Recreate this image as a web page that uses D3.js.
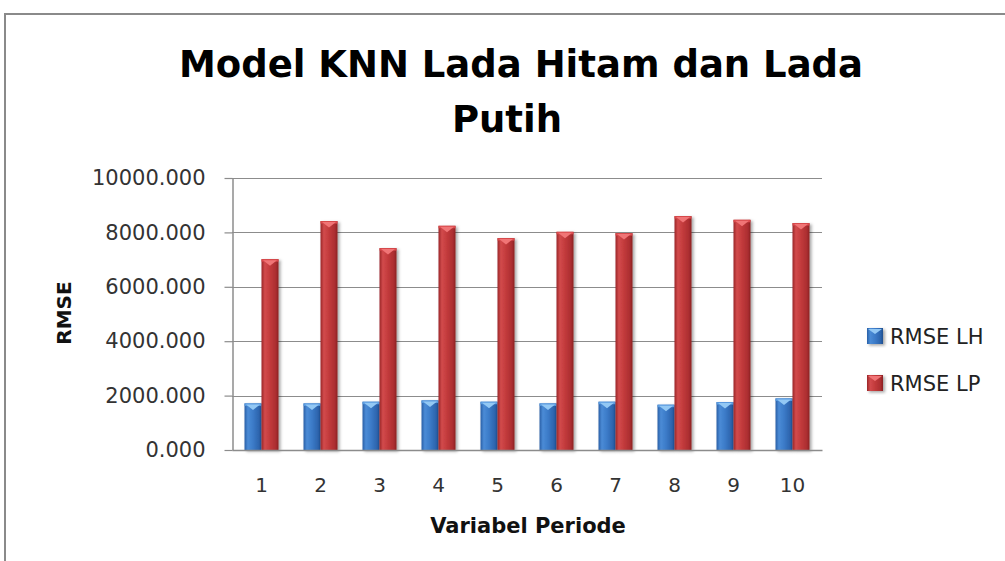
<!DOCTYPE html>
<html>
<head>
<meta charset="utf-8">
<script src="https://cdn.jsdelivr.net/npm/d3@7"></script>
<style>
  html, body { margin: 0; padding: 0; background: #fff; }
  svg { display: block; }
</style>
</head>
<body>
<svg id="chart" width="1005" height="561"></svg>
<script>
// ---- data ----
const categories = ["1","2","3","4","5","6","7","8","9","10"];
const seriesNames = ["RMSE LH","RMSE LP"];
const rmseLH = [1713, 1713, 1775, 1823, 1775, 1713, 1775, 1665, 1761, 1897];
const rmseLP = [7017, 8416, 7422, 8243, 7790, 8022, 7974, 8600, 8464, 8343];
const yTicks = [0, 2000, 4000, 6000, 8000, 10000];
const titleLines = ["Model KNN Lada Hitam dan Lada", "Putih"];
const xTitle = "Variabel Periode";
const yTitle = "RMSE";

const svg = d3.select("#chart");

// chart border
svg.append("path")
  .attr("d", "M5,1000 L5,14 L1010,14")
  .attr("fill", "none").attr("stroke", "#8a8a8a").attr("stroke-width", 2);

const plot = { left: 232, right: 822, top: 178, bottom: 450 };

const x = d3.scaleBand().domain(categories)
  .range([plot.left, plot.right]).paddingInner(25/59).paddingOuter(12.5/59);
const xs = d3.scaleBand().domain(seriesNames).range([0, x.bandwidth()]);
const y = d3.scaleLinear().domain([0, 10000]).range([plot.bottom, plot.top]);

// defs: gradients & shadow
const defs = svg.append("defs");
const grads = {
  "RMSE LH": ["#2a5fa6", "#4a8bd6", "#3c7bc8", "#2c64ad", "#1f4e8e"],
  "RMSE LP": ["#9a2628", "#d24a4c", "#c23a3c", "#ab2e30", "#8a2022"]
};
const tops = { "RMSE LH": "#93c8f4", "RMSE LP": "#f07476" };
const topBand = { "RMSE LH": "#5a9be0", "RMSE LP": "#d9494b" };
seriesNames.forEach((s, i) => {
  const g = defs.append("linearGradient").attr("id", "g" + i)
    .attr("x1", "0").attr("x2", "1").attr("y1", "0").attr("y2", "0");
  const cols = grads[s];
  [0, 0.2, 0.5, 0.85, 1].forEach((o, k) =>
    g.append("stop").attr("offset", o).attr("stop-color", cols[k]));
});
const f = defs.append("filter").attr("id", "shadow")
  .attr("x", "-30%").attr("y", "-10%").attr("width", "160%").attr("height", "130%");
f.append("feDropShadow").attr("dx", 2).attr("dy", 1.5)
  .attr("stdDeviation", 1.6).attr("flood-color", "#000").attr("flood-opacity", 0.35);

// gridlines
svg.append("g").selectAll("line").data(yTicks.filter(d => d > 0)).join("line")
  .attr("x1", plot.left).attr("x2", plot.right)
  .attr("y1", d => Math.round(y(d)) + 0.5).attr("y2", d => Math.round(y(d)) + 0.5)
  .attr("stroke", "#8c8c8c").attr("stroke-width", 1.2);

// bars
const data = categories.map((c, i) => ({ c, vals: [rmseLH[i], rmseLP[i]] }));
const groups = svg.append("g").selectAll("g").data(data).join("g")
  .attr("transform", d => `translate(${x(d.c)},0)`);
seriesNames.forEach((s, si) => {
  const bw = xs.bandwidth();
  const bar = groups.append("g").attr("filter", "url(#shadow)");
  bar.append("rect")
    .attr("x", xs(s)).attr("width", bw)
    .attr("y", d => y(d.vals[si])).attr("height", d => y(0) - y(d.vals[si]))
    .attr("fill", `url(#g${si})`);
  bar.append("rect")
    .attr("x", xs(s)).attr("width", bw)
    .attr("y", d => y(d.vals[si])).attr("height", 2.5)
    .attr("fill", topBand[s]);
  bar.append("path")
    .attr("d", d => {
      const x0 = xs(s), yt = y(d.vals[si]);
      return `M${x0 + 1.5},${yt + 1} L${x0 + bw - 1.5},${yt + 1} L${x0 + bw / 2},${yt + 6.5} Z`;
    })
    .attr("fill", tops[s]);
});

// y axis
const yAxis = svg.append("g").attr("transform", `translate(${plot.left + 0.5},0)`)
  .call(d3.axisLeft(y).tickValues(yTicks).tickFormat(d3.format(".3f"))
    .tickSize(8).tickPadding(19).tickSizeOuter(0));
yAxis.select(".domain").attr("stroke", "#8c8c8c").attr("stroke-width", 1.5);
yAxis.selectAll(".tick line").attr("stroke", "#8c8c8c").attr("stroke-width", 1.2);
yAxis.selectAll(".tick text")
  .attr("font-family", "DejaVu Sans").attr("font-size", 21).attr("fill", "#333");

// x axis
const xAxis = svg.append("g").attr("transform", `translate(0,${plot.bottom})`)
  .call(d3.axisBottom(x).tickSize(0).tickPadding(28).tickSizeOuter(0));
xAxis.select(".domain").attr("stroke", "#8c8c8c").attr("stroke-width", 1.5);
xAxis.selectAll(".tick text")
  .attr("font-family", "DejaVu Sans").attr("font-size", 20).attr("fill", "#333");

// titles
svg.append("text").attr("x", 521).attr("y", 77)
  .attr("text-anchor", "middle").attr("font-family", "DejaVu Sans").attr("font-weight", "bold")
  .attr("font-size", 37).attr("fill", "#000").text(titleLines[0]);
svg.append("text").attr("x", 507).attr("y", 132)
  .attr("text-anchor", "middle").attr("font-family", "DejaVu Sans").attr("font-weight", "bold")
  .attr("font-size", 37).attr("fill", "#000").text(titleLines[1]);

svg.append("text").attr("x", 528).attr("y", 533)
  .attr("text-anchor", "middle").attr("font-family", "DejaVu Sans").attr("font-weight", "bold")
  .attr("font-size", 21).attr("fill", "#111").text(xTitle);

svg.append("text").attr("transform", "translate(71,313) rotate(-90)")
  .attr("text-anchor", "middle").attr("font-family", "DejaVu Sans").attr("font-weight", "bold")
  .attr("font-size", 20).attr("fill", "#111").text(yTitle);

// legend
const legY = [336, 383];
const leg = svg.append("g").selectAll("g").data(seriesNames).join("g")
  .attr("transform", (d, i) => `translate(867,${legY[i]})`);
leg.append("rect").attr("x", 0).attr("y", -8).attr("width", 16).attr("height", 16)
  .attr("fill", (d, i) => `url(#g${i})`).attr("filter", "url(#shadow)");
leg.append("path").attr("d", "M1,-7 L15,-7 L8,-2 Z").attr("fill", d => tops[d]);
leg.append("text").attr("x", 23).attr("y", 7.5)
  .attr("font-family", "DejaVu Sans").attr("font-size", 21).attr("fill", "#222")
  .text(d => d);
</script>
</body>
</html>
